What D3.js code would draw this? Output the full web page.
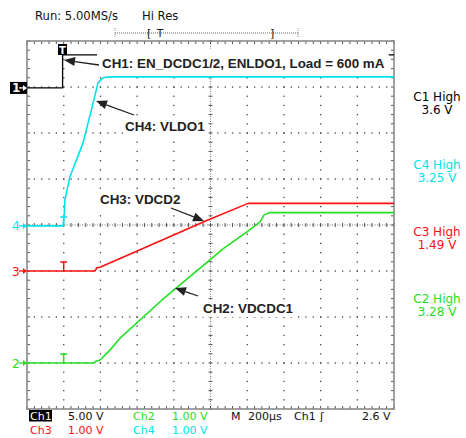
<!DOCTYPE html>
<html><head><meta charset="utf-8">
<script src="https://cdn.jsdelivr.net/npm/d3@7"></script>
<style>
html,body{margin:0;padding:0;background:#fff;}
svg{display:block;}
</style></head>
<body>
<svg id="c" width="466" height="438"></svg>
<script>
// ---------- DATA ----------
// time in µs relative to trigger, volts per channel
const ch1Time = [-200, -6, -6, 1800];
const ch1Volts = [0, 0, 3.6, 3.6];

const ch4Time = [-200, -4, 2, 7, 34, 105, 160, 187, 214, 252, 1800];
const ch4Volts = [0, 0, 0.2, 0.57, 1.07, 1.80, 2.67, 3.11, 3.22, 3.24, 3.24];

const ch3Time = [-200, 170, 181, 198, 307, 525, 770, 1005, 1800];
const ch3Volts = [0, 0, 0.07, 0.08, 0.27, 0.65, 1.08, 1.47, 1.47];

const ch2Time = [-200, 165, 176, 198, 252, 307, 536, 797, 868, 999, 1070, 1092, 1124, 1800];
const ch2Volts = [0, 0, 0.04, 0.065, 0.28, 0.54, 1.37, 2.24, 2.48, 2.85, 3.07, 3.22, 3.27, 3.27];

const highLabels = ["C1 High", "C4 High", "C3 High", "C2 High"];
const highValues = ["3.6 V", "3.25 V", "1.49 V", "3.28 V"];

const annotations = ["CH1: EN_DCDC1/2, ENLDO1, Load = 600 mA", "CH4: VLDO1", "CH3: VDCD2", "CH2: VDCDC1"];

const headerTexts = ["Run: 5.00MS/s", "Hi Res"];
const statusRow1 = ["Ch1", "5.00 V", "Ch2", "1.00 V", "M", "200µs", "Ch1", "ʃ", "2.6 V"];
const statusRow2 = ["Ch3", "1.00 V", "Ch4", "1.00 V"];

// ---------- SETTINGS ----------
const timeDomain = [-200, 1800];   // 200 µs/div, 10 divisions
const divDomain = [-4, 4];         // 8 vertical divisions
const channels = [
  {t: ch1Time, v: ch1Volts, vpd: 5, off: 2.98, color: "#000000", label: "1"},
  {t: ch4Time, v: ch4Volts, vpd: 1, off: -0.02, color: "#00e3e8", label: "4"},
  {t: ch3Time, v: ch3Volts, vpd: 1, off: -1, color: "#ff1010", label: "3"},
  {t: ch2Time, v: ch2Volts, vpd: 1, off: -3, color: "#22e022", label: "2"}
];

const svg = d3.select("#c");
const L = 27, R = 394, T = 41, B = 409;
const x = d3.scaleLinear().domain(timeDomain).range([L, R]);
const yd = d3.scaleLinear().domain(divDomain).range([B, T]);
const SF = "DejaVu Sans, Verdana, sans-serif";
const AF = "Liberation Sans, Arial, sans-serif";

// ---------- GRID ----------
const g = svg.append("g");
const majorT = d3.range(0, 11).map(i => timeDomain[0] + i * 200);
const majorD = d3.range(0, 9).map(i => -4 + i);
const minorT = d3.range(0, 51).map(i => timeDomain[0] + i * 40);
const minorD = d3.range(0, 41).map(i => -4 + i * 0.2);

majorT.slice(1, -1).forEach(t => {
  if (t === 800) return;
  g.selectAll(null).data(minorD.slice(1, -1)).enter().append("rect")
    .attr("x", x(t) - 0.6).attr("y", d => yd(d) - 0.6).attr("width", 1.3).attr("height", 1.3)
    .attr("fill", "#444");
});
majorD.slice(1, -1).forEach(dv => {
  if (dv === 0) return;
  g.selectAll(null).data(minorT.slice(1, -1)).enter().append("rect")
    .attr("x", d => x(d) - 0.6).attr("y", yd(dv) - 0.6).attr("width", 1.3).attr("height", 1.3)
    .attr("fill", "#444");
});
g.append("line").attr("x1", L).attr("x2", R).attr("y1", yd(0)).attr("y2", yd(0))
  .attr("stroke", "#777").attr("stroke-width", 1).attr("stroke-dasharray", "1,1.5");
g.append("line").attr("x1", x(800)).attr("x2", x(800)).attr("y1", T).attr("y2", B)
  .attr("stroke", "#777").attr("stroke-width", 1).attr("stroke-dasharray", "1,1.5");
g.selectAll(null).data(minorT).enter().append("line")
  .attr("x1", d => x(d)).attr("x2", d => x(d)).attr("y1", yd(0) - 2).attr("y2", yd(0) + 2)
  .attr("stroke", "#555");
g.selectAll(null).data(minorD).enter().append("line")
  .attr("y1", d => yd(d)).attr("y2", d => yd(d)).attr("x1", x(800) - 2).attr("x2", x(800) + 2)
  .attr("stroke", "#555");
g.selectAll(null).data(minorT).enter().append("line")
  .attr("x1", d => x(d)).attr("x2", d => x(d)).attr("y1", T).attr("y2", T + 3).attr("stroke", "#555");
g.selectAll(null).data(minorT).enter().append("line")
  .attr("x1", d => x(d)).attr("x2", d => x(d)).attr("y1", B - 3).attr("y2", B).attr("stroke", "#555");
g.selectAll(null).data(minorD).enter().append("line")
  .attr("y1", d => yd(d)).attr("y2", d => yd(d)).attr("x1", L).attr("x2", L + 3).attr("stroke", "#555");
g.selectAll(null).data(minorD).enter().append("line")
  .attr("y1", d => yd(d)).attr("y2", d => yd(d)).attr("x1", R - 3).attr("x2", R).attr("stroke", "#555");
g.append("rect").attr("x", L).attr("y", T).attr("width", R - L).attr("height", B - T)
  .attr("fill", "none").attr("stroke", "#8a8a8a").attr("stroke-width", 1.6);

// ---------- TRACES ----------
const chY = ch => v => yd(ch.off + v / ch.vpd);
channels.forEach(ch => {
  const fy = chY(ch);
  const pts = ch.t.map((t, i) => [x(t), fy(ch.v[i])]);
  svg.append("path").attr("d", d3.line()(pts))
    .attr("fill", "none").attr("stroke", ch.color).attr("stroke-width", ch.color === "#000000" ? 1.3 : 1.6)
    .attr("stroke-linejoin", "round");
});

channels.slice(1).forEach(ch => {
  const y0 = chY(ch)(0);
  svg.append("path").attr("d", `M${x(0) - 3.5},${y0 - 9}H${x(0) + 3.5}M${x(0)},${y0 - 9}V${y0}`)
    .attr("stroke", ch.color).attr("stroke-width", 1.5).attr("fill", "none");
});

// channel position markers on left (digit + arrow)
channels.forEach((ch, i) => {
  const y0 = chY(ch)(0);
  const col = i === 0 ? "#fff" : ch.color;
  if (i === 0) {
    svg.append("rect").attr("x", 10).attr("y", y0 - 6).attr("width", 17).attr("height", 12).attr("fill", "#000");
  }
  svg.append("text").attr("x", 12).attr("y", y0 + 4.5).text(ch.label)
    .attr("font-family", SF).attr("font-size", 12).attr("font-weight", i === 0 ? "bold" : "normal").attr("fill", col);
  svg.append("path").attr("d", `M19,${y0}H26`).attr("stroke", col).attr("stroke-width", 1.3);
  svg.append("path").attr("d", `M27,${y0}L23,${y0 - 3}L23,${y0 + 3}Z`).attr("fill", col);
});

// trigger "T" marker on top border
svg.append("rect").attr("x", 58).attr("y", 44).attr("width", 9).attr("height", 11).attr("fill", "#000");
svg.append("text").attr("x", 62.5).attr("y", 53.5).attr("text-anchor", "middle").text("T")
  .attr("font-family", SF).attr("font-size", 10).attr("font-weight", "bold").attr("fill", "#fff");

// ---------- ANNOTATIONS ----------
const annPos = [
  {x: 102, y: 68, tail: [99, 65], tip: [64, 60]},
  {x: 125, y: 131, tail: [134, 115], tip: [96, 101]},
  {x: 100, y: 204, tail: [171, 208], tip: [204, 221]},
  {x: 203, y: 313, tail: [198, 296], tip: [175, 288]}
];
annotations.forEach((txt, i) => {
  const p = annPos[i];
  const t = svg.append("text").attr("x", p.x).attr("y", p.y).text(txt)
    .attr("font-family", AF).attr("font-size", 13.4).attr("font-weight", "bold").attr("fill", "#222");
  const bb = t.node().getBBox();
  const pad = i === 0 ? {l: 5, r: 4, t: 7, b: 4} : {l: 2, r: 2, t: 1, b: 1};
  svg.insert("rect", () => t.node())
    .attr("x", bb.x - pad.l).attr("y", bb.y - pad.t).attr("width", bb.width + pad.l + pad.r).attr("height", bb.height + pad.t + pad.b)
    .attr("fill", "#fff");
  const [x1, y1] = p.tail, [x2, y2] = p.tip;
  const a = Math.atan2(y2 - y1, x2 - x1);
  const hl = 11, hw = 4.5;
  const bx = x2 - hl * Math.cos(a), by = y2 - hl * Math.sin(a);
  svg.append("line").attr("x1", x1).attr("y1", y1).attr("x2", bx).attr("y2", by)
    .attr("stroke", "#222").attr("stroke-width", 1.3);
  svg.append("path")
    .attr("d", `M${x2},${y2}L${bx - hw * Math.sin(a)},${by + hw * Math.cos(a)}L${bx + hw * Math.sin(a)},${by - hw * Math.cos(a)}Z`)
    .attr("fill", "#222");
});

// ---------- RIGHT LABELS ----------
const rightColors = [channels[0].color, channels[1].color, channels[2].color, channels[3].color];
const rightY = [101, 169, 236, 303];
highLabels.forEach((lab, i) => {
  svg.append("text").attr("x", 437).attr("y", rightY[i]).attr("text-anchor", "middle").text(lab)
    .attr("font-family", SF).attr("font-size", 12).attr("fill", rightColors[i]);
  svg.append("text").attr("x", 437).attr("y", rightY[i] + 13).attr("text-anchor", "middle").text(highValues[i])
    .attr("font-family", SF).attr("font-size", 12).attr("fill", rightColors[i]);
});

// ---------- HEADER ----------
svg.append("text").attr("x", 35).attr("y", 20).text(headerTexts[0])
  .attr("font-family", SF).attr("font-size", 11.6).attr("fill", "#111");
svg.append("text").attr("x", 142).attr("y", 20).text(headerTexts[1])
  .attr("font-family", SF).attr("font-size", 11.6).attr("fill", "#111");
svg.append("line").attr("x1", 115).attr("x2", 298).attr("y1", 33).attr("y2", 33)
  .attr("stroke", "#666").attr("stroke-dasharray", "1,1");
[115, 298].forEach(xx => svg.append("line").attr("x1", xx).attr("x2", xx).attr("y1", 28).attr("y2", 38)
  .attr("stroke", "#888").attr("stroke-dasharray", "1,1"));
svg.append("text").attr("x", 147).attr("y", 37).text("[").attr("font-family", SF).attr("font-size", 11).attr("fill", "#111");
svg.append("text").attr("x", 157).attr("y", 37).text("T").attr("font-family", SF).attr("font-size", 10).attr("fill", "#111");
svg.append("text").attr("x", 270).attr("y", 37).text("]").attr("font-family", SF).attr("font-size", 11).attr("fill", "#111");

// ---------- STATUS BAR ----------
const row1X = [30, 68, 133, 172, 231, 248, 294, 320, 362];
const row1C = ["#fff", "#111", channels[3].color, channels[3].color, "#111", "#111", "#111", "#111", "#111"];
svg.append("rect").attr("x", 29).attr("y", 410).attr("width", 23).attr("height", 11.5).attr("fill", "#000");
statusRow1.forEach((s, i) => {
  svg.append("text").attr("x", row1X[i]).attr("y", 420).text(s)
    .attr("font-family", SF).attr("font-size", 11).attr("fill", row1C[i]);
});
const row2X = [30, 68, 133, 172];
const row2C = [channels[2].color, channels[2].color, channels[1].color, channels[1].color];
statusRow2.forEach((s, i) => {
  svg.append("text").attr("x", row2X[i]).attr("y", 434).text(s)
    .attr("font-family", SF).attr("font-size", 11).attr("fill", row2C[i]);
});
</script>
</body></html>
